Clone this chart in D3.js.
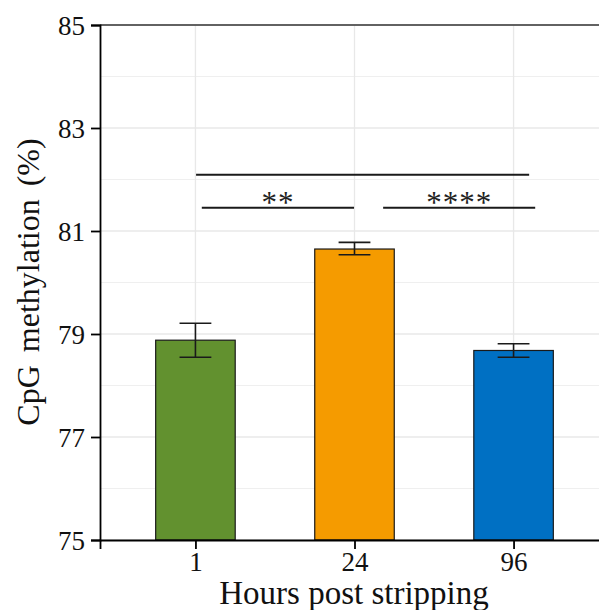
<!DOCTYPE html>
<html>
<head>
<meta charset="utf-8">
<script src="https://cdn.jsdelivr.net/npm/d3@7"></script>
<style>
  body { margin: 0; background: #fff; }
  svg { display: block; font-family: "Liberation Serif", "Times New Roman", serif; }
</style>
</head>
<body>
<svg width="599" height="610"></svg>
<script>
// data
const hours = ["1", "24", "96"];
const meanMeth = [78.88, 80.65, 78.68];
const errLow = [78.55, 80.54, 78.55];
const errHigh = [79.21, 80.78, 78.81];
const barColors = ["#62912f", "#f59b00", "#0070c3"];
const yTicks = [75, 77, 79, 81, 83, 85];

// significance lines (x in category index units)
const sigFrom = [0.04, 1.18, 0.004];
const sigTo = [0.997, 2.136, 2.098];
const sigY = [81.45, 81.45, 82.09];
const sigLabel = ["**", "****", ""];

const svg = d3.select("svg");

const plotL = 100, plotR = 609, plotT = 25, plotB = 540;

// continuous x over category positions, ggplot style 0.6 expansion
const x = d3.scaleLinear().domain([-0.6, hours.length - 1 + 0.6]).range([plotL, plotR]);
const y = d3.scaleLinear().domain([75, 85]).range([plotB, plotT]);

const barW = 0.5, capW = 0.2;

// grid lines
const grid = svg.append("g");
grid.selectAll(".minor")
    .data(d3.range(76, 85, 2))
    .enter().append("line")
    .attr("x1", plotL).attr("x2", 599)
    .attr("y1", d => y(d)).attr("y2", d => y(d))
    .attr("stroke", "#efefef").attr("stroke-width", 1);
grid.selectAll(".major")
    .data(yTicks)
    .enter().append("line")
    .attr("x1", plotL).attr("x2", 599)
    .attr("y1", d => y(d)).attr("y2", d => y(d))
    .attr("stroke", "#e8e8e8").attr("stroke-width", 1.3);
grid.selectAll(".vert")
    .data(hours)
    .enter().append("line")
    .attr("x1", (d, i) => x(i)).attr("x2", (d, i) => x(i))
    .attr("y1", plotT).attr("y2", plotB)
    .attr("stroke", "#e8e8e8").attr("stroke-width", 1.3);

// bars
svg.selectAll(".bar")
    .data(meanMeth)
    .enter().append("rect")
    .attr("x", (d, i) => x(i - barW / 2))
    .attr("width", x(barW) - x(0))
    .attr("y", d => y(d))
    .attr("height", d => y(75) - y(d))
    .attr("fill", (d, i) => barColors[i])
    .attr("stroke", "#1a1a1a")
    .attr("stroke-width", 1.2);

// error bars
const eb = svg.append("g").attr("stroke", "#1a1a1a").attr("stroke-width", 1.6);
hours.forEach((h, i) => {
    eb.append("line")
        .attr("x1", x(i)).attr("x2", x(i))
        .attr("y1", y(errLow[i])).attr("y2", y(errHigh[i]));
    [errLow[i], errHigh[i]].forEach(v => {
        eb.append("line")
            .attr("x1", x(i - capW / 2)).attr("x2", x(i + capW / 2))
            .attr("y1", y(v)).attr("y2", y(v));
    });
});

// significance brackets
sigY.forEach((v, k) => {
    svg.append("line")
        .attr("x1", x(sigFrom[k])).attr("x2", x(sigTo[k]))
        .attr("y1", y(v)).attr("y2", y(v))
        .attr("stroke", "#1a1a1a").attr("stroke-width", 2);
    if (sigLabel[k]) {
        svg.append("text")
            .attr("x", x((sigFrom[k] + sigTo[k]) / 2))
            .attr("y", y(v) + 5)
            .attr("text-anchor", "middle")
            .style("font-size", "31px")
            .style("letter-spacing", "1px")
            .attr("fill", "#222")
            .text(sigLabel[k]);
    }
});

// top border
svg.append("line")
    .attr("x1", plotL).attr("x2", 599)
    .attr("y1", plotT).attr("y2", plotT)
    .attr("stroke", "#333").attr("stroke-width", 1.6);

// axes
const yAxis = svg.append("g")
    .attr("transform", `translate(${plotL},0)`)
    .call(d3.axisLeft(y).tickValues(yTicks).tickSize(9).tickPadding(6));
const xAxis = svg.append("g")
    .attr("transform", `translate(0,${plotB})`)
    .call(d3.axisBottom(x).tickValues(d3.range(hours.length))
        .tickFormat(i => hours[i]).tickSize(9).tickPadding(4));

[yAxis, xAxis].forEach(a => {
    a.select(".domain").attr("stroke", "#000").attr("stroke-width", 1.8);
    a.selectAll(".tick line").attr("stroke", "#000").attr("stroke-width", 1.8);
    a.selectAll(".tick text")
        .style("font-family", "Liberation Serif, serif")
        .style("font-size", "27px")
        .attr("fill", "#111");
});
yAxis.selectAll(".tick text").attr("dy", "0.36em");
xAxis.selectAll(".tick text").attr("dy", "0.68em");

// axis titles
svg.append("text")
    .attr("x", 354)
    .attr("y", 604)
    .attr("text-anchor", "middle")
    .style("font-size", "33px")
    .attr("fill", "#111")
    .text("Hours post stripping");

svg.append("text")
    .attr("transform", "translate(39,282) rotate(-90)")
    .attr("text-anchor", "middle")
    .style("font-size", "32px")
    .style("word-spacing", "5px")
    .attr("fill", "#111")
    .text("CpG methylation (%)");
</script>
</body>
</html>
